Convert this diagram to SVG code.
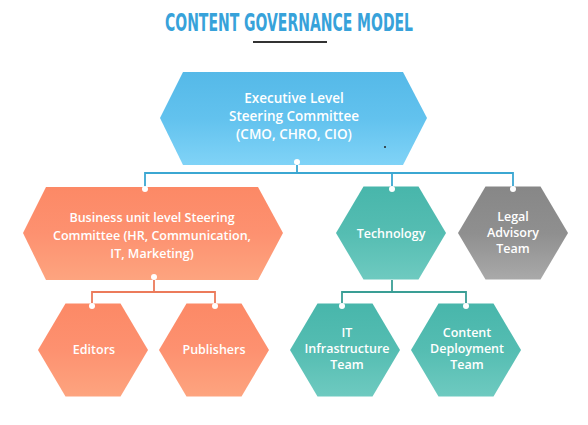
<svg xmlns="http://www.w3.org/2000/svg" width="588" height="425" viewBox="0 0 588 425">
<defs>
<linearGradient id="gBlue" x1="0" y1="0" x2="0" y2="1"><stop offset="0" stop-color="#55b9e8"/><stop offset="0.5" stop-color="#62c2ee"/><stop offset="1" stop-color="#80d3f7"/></linearGradient>
<linearGradient id="gOrange" x1="0" y1="0" x2="0" y2="1"><stop offset="0" stop-color="#fc8966"/><stop offset="0.5" stop-color="#fd9170"/><stop offset="1" stop-color="#fda47f"/></linearGradient>
<linearGradient id="gTeal" x1="0" y1="0" x2="0" y2="1"><stop offset="0" stop-color="#48b6ab"/><stop offset="0.5" stop-color="#55bdb2"/><stop offset="1" stop-color="#6ecac0"/></linearGradient>
<linearGradient id="gGray" x1="0" y1="0" x2="0" y2="1"><stop offset="0" stop-color="#878787"/><stop offset="0.5" stop-color="#8f8f8f"/><stop offset="1" stop-color="#a9a9a9"/></linearGradient>
<polygon id="hex" points="-55,0 -27.5,-46.5 27.5,-46.5 55,0 27.5,46.5 -27.5,46.5"/>
</defs>
<style>
.t{font-family:"Open Sans","Noto Sans","DejaVu Sans",sans-serif;font-weight:600;fill:#fff;text-anchor:middle;font-size:12.5px}
.te{font-size:13.5px}
.title{font-family:"Liberation Sans Narrow","DejaVu Sans Condensed","Liberation Sans",sans-serif;font-weight:bold;font-stretch:condensed;fill:#37a2da;font-size:25.5px;text-anchor:middle}
.cb{fill:none;stroke:#3ba7d2;stroke-width:1.8}
.co{fill:none;stroke:#ec7b5b;stroke-width:1.8}
.ct{fill:none;stroke:#3a9e95;stroke-width:1.8}
.dot{fill:#fff}
</style>
<rect width="588" height="425" fill="#fff"/>
<text class="title" x="289" y="30.5" textLength="248" lengthAdjust="spacingAndGlyphs">CONTENT GOVERNANCE MODEL</text>
<line x1="253" y1="42" x2="327" y2="42" stroke="#333" stroke-width="2"/>
<g id="connectors">
<path class="cb" d="M297,162 V173 M145,189 V173 H513 V189 M392,173 V189"/>
<path class="co" d="M154,277 V292 M92,306 V292 H215 V306"/>
<path class="ct" d="M392,280 V292 M342,306 V292 H466 V306"/>
</g>
<g id="executive">
<polygon points="160,118 183,72 403,72 427,118 403,165 183,165" fill="url(#gBlue)"/>
<text class="t te" x="294" y="103">Executive Level</text>
<text class="t te" x="294" y="121">Steering Committee</text>
<text class="t te" x="294" y="139">(CMO, CHRO, CIO)</text>
<circle cx="385" cy="147" r="1" fill="#222"/>
</g>
<g id="business">
<polygon points="23,233 46,187 258,187 283,233 258,280 46,280" fill="url(#gOrange)"/>
<text class="t" x="152" y="222">Business unit level Steering</text>
<text class="t" x="152" y="240">Committee (HR, Communication,</text>
<text class="t" x="152" y="258">IT, Marketing)</text>
</g>
<g id="technology">
<use href="#hex" x="391" y="233" fill="url(#gTeal)"/>
<text class="t" x="391" y="238">Technology</text>
</g>
<g id="legal">
<use href="#hex" x="513" y="233" fill="url(#gGray)"/>
<text class="t" x="513" y="221">Legal</text>
<text class="t" x="513" y="237">Advisory</text>
<text class="t" x="513" y="253">Team</text>
</g>
<g id="editors">
<use href="#hex" x="93" y="350" fill="url(#gOrange)"/>
<text class="t" x="94" y="354">Editors</text>
</g>
<g id="publishers">
<use href="#hex" x="214" y="350" fill="url(#gOrange)"/>
<text class="t" x="214" y="354">Publishers</text>
</g>
<g id="it-infrastructure">
<use href="#hex" x="345" y="350" fill="url(#gTeal)"/>
<text class="t" x="347" y="337">IT</text>
<text class="t" x="347" y="353">Infrastructure</text>
<text class="t" x="347" y="369">Team</text>
</g>
<g id="content-deployment">
<use href="#hex" x="466" y="350" fill="url(#gTeal)"/>
<text class="t" x="467" y="337">Content</text>
<text class="t" x="467" y="353">Deployment</text>
<text class="t" x="467" y="369">Team</text>
</g>
<g id="dots">
<circle class="dot" cx="297" cy="162" r="3"/>
<circle class="dot" cx="145" cy="189" r="3"/>
<circle class="dot" cx="392" cy="189" r="3"/>
<circle class="dot" cx="513" cy="189" r="3"/>
<circle class="dot" cx="154" cy="277" r="3"/>
<circle class="dot" cx="92" cy="306" r="3"/>
<circle class="dot" cx="215" cy="306" r="3"/>
<circle class="dot" cx="342" cy="306" r="3"/>
<circle class="dot" cx="466" cy="306" r="3"/>
</g>
</svg>
